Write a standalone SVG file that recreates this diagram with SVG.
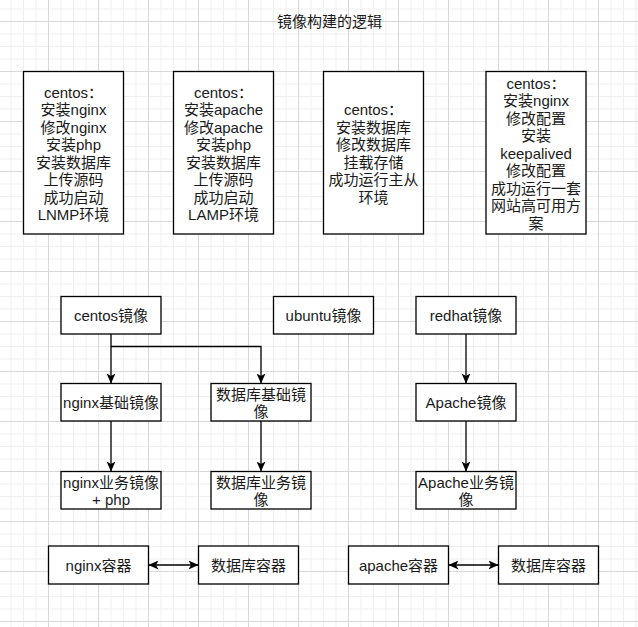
<svg xmlns="http://www.w3.org/2000/svg" width="638" height="627" viewBox="0 0 638 627">
<defs>
<style>
.box{fill:#fff;stroke:#000;stroke-width:1.3}
.t{font-family:"Liberation Sans","Noto Sans CJK SC",sans-serif;font-size:15px;fill:#1a1a1a;text-anchor:middle;dominant-baseline:central}
.c{fill:none;stroke:#000;stroke-width:1.3}
</style>
<pattern id="minor" patternUnits="userSpaceOnUse" x="10.5" y="8.5" width="12.5" height="12.5">
<rect x="0" y="0" width="1" height="12.5" fill="#efefef"/>
<rect x="0" y="0" width="12.5" height="1" fill="#efefef"/>
</pattern>
<pattern id="major" patternUnits="userSpaceOnUse" x="48" y="21" width="50" height="50">
<rect x="0" y="0" width="1" height="50" fill="#d8d8d8"/>
<rect x="0" y="0" width="50" height="1" fill="#d8d8d8"/>
</pattern>
<marker id="arr" viewBox="0 0 10 9" refX="10" refY="4.5" markerWidth="10" markerHeight="9" markerUnits="userSpaceOnUse" orient="auto-start-reverse">
<path d="M0,0 L10,4.5 L0,9 L2.5,4.5 Z" fill="#000"/>
</marker>
</defs>
<rect width="638" height="627" fill="#fff"/>
<rect width="638" height="627" fill="url(#minor)"/>
<rect width="638" height="627" fill="url(#major)"/>

<text class="t" x="329.5" y="21">镜像构建的逻辑</text>

<g id="note-lnmp">
<rect class="box" x="23.5" y="71.5" width="100" height="162.5"/>
<text class="t"><tspan x="73.5" y="91.5">centos：</tspan><tspan x="73.5" y="109">安装nginx</tspan><tspan x="73.5" y="126.5">修改nginx</tspan><tspan x="73.5" y="144">安装php</tspan><tspan x="73.5" y="161.5">安装数据库</tspan><tspan x="73.5" y="179">上传源码</tspan><tspan x="73.5" y="196.5">成功启动</tspan><tspan x="73.5" y="214">LNMP环境</tspan></text>
</g>
<g id="note-lamp">
<rect class="box" x="173.5" y="71.5" width="100" height="162.5"/>
<text class="t"><tspan x="223.5" y="91.5">centos：</tspan><tspan x="223.5" y="109">安装apache</tspan><tspan x="223.5" y="126.5">修改apache</tspan><tspan x="223.5" y="144">安装php</tspan><tspan x="223.5" y="161.5">安装数据库</tspan><tspan x="223.5" y="179">上传源码</tspan><tspan x="223.5" y="196.5">成功启动</tspan><tspan x="223.5" y="214">LAMP环境</tspan></text>
</g>
<g id="note-db">
<rect class="box" x="323.5" y="71.5" width="100" height="162.5"/>
<text class="t"><tspan x="373.5" y="109">centos：</tspan><tspan x="373.5" y="126.5">安装数据库</tspan><tspan x="373.5" y="144">修改数据库</tspan><tspan x="373.5" y="161.5">挂载存储</tspan><tspan x="373.5" y="179">成功运行主从</tspan><tspan x="373.5" y="196.5">环境</tspan></text>
</g>
<g id="note-ha">
<rect class="box" x="486" y="71.5" width="100" height="162.5"/>
<text class="t"><tspan x="536" y="82.75">centos：</tspan><tspan x="536" y="100.25">安装nginx</tspan><tspan x="536" y="117.75">修改配置</tspan><tspan x="536" y="135.25">安装</tspan><tspan x="536" y="152.75">keepalived</tspan><tspan x="536" y="170.25">修改配置</tspan><tspan x="536" y="187.75">成功运行一套</tspan><tspan x="536" y="205.25">网站高可用方</tspan><tspan x="536" y="222.75">案</tspan></text>
</g>

<g id="centos">
<rect class="box" x="61" y="296.5" width="100" height="37.5"/>
<text class="t" x="111" y="315.25">centos镜像</text>
</g>
<g id="ubuntu">
<rect class="box" x="273.5" y="296.5" width="100" height="37.5"/>
<text class="t" x="323.5" y="315.25">ubuntu镜像</text>
</g>
<g id="redhat">
<rect class="box" x="416" y="296.5" width="100" height="37.5"/>
<text class="t" x="466" y="315.25">redhat镜像</text>
</g>
<g id="nginx-base">
<rect class="box" x="61" y="383.5" width="100" height="37.5"/>
<text class="t" x="111" y="402.25">nginx基础镜像</text>
</g>
<g id="db-base">
<rect class="box" x="211" y="383.5" width="100" height="37.5"/>
<text class="t"><tspan x="261" y="393.5">数据库基础镜</tspan><tspan x="261" y="411">像</tspan></text>
</g>
<g id="apache">
<rect class="box" x="416" y="383.5" width="100" height="37.5"/>
<text class="t" x="466" y="402.25">Apache镜像</text>
</g>
<g id="nginx-biz">
<rect class="box" x="61" y="471.5" width="100" height="37.5"/>
<text class="t"><tspan x="111" y="481.5">nginx业务镜像</tspan><tspan x="111" y="499">+ php</tspan></text>
</g>
<g id="db-biz">
<rect class="box" x="211" y="471.5" width="100" height="37.5"/>
<text class="t"><tspan x="261" y="481.5">数据库业务镜</tspan><tspan x="261" y="499">像</tspan></text>
</g>
<g id="apache-biz">
<rect class="box" x="416" y="471.5" width="100" height="37.5"/>
<text class="t"><tspan x="466" y="481.5">Apache业务镜</tspan><tspan x="466" y="499">像</tspan></text>
</g>

<g id="nginx-ct">
<rect class="box" x="48.5" y="546" width="100" height="38"/>
<text class="t" x="98.5" y="565">nginx容器</text>
</g>
<g id="db-ct1">
<rect class="box" x="198.5" y="546" width="100" height="38"/>
<text class="t" x="248.5" y="565">数据库容器</text>
</g>
<g id="apache-ct">
<rect class="box" x="348.5" y="546" width="100" height="38"/>
<text class="t" x="398.5" y="565">apache容器</text>
</g>
<g id="db-ct2">
<rect class="box" x="498.5" y="546" width="100" height="38"/>
<text class="t" x="548.5" y="565">数据库容器</text>
</g>

<g id="connectors">
<path class="c" d="M111,334 V383.5" marker-end="url(#arr)"/>
<path class="c" d="M111,346.5 H261 V383.5" marker-end="url(#arr)"/>
<path class="c" d="M111,421 V471.5" marker-end="url(#arr)"/>
<path class="c" d="M261,421 V471.5" marker-end="url(#arr)"/>
<path class="c" d="M466,334 V383.5" marker-end="url(#arr)"/>
<path class="c" d="M466,421 V471.5" marker-end="url(#arr)"/>
<path class="c" d="M148.5,565 H198.5" marker-start="url(#arr)" marker-end="url(#arr)"/>
<path class="c" d="M448.5,565 H498.5" marker-start="url(#arr)" marker-end="url(#arr)"/>
</g>
</svg>
